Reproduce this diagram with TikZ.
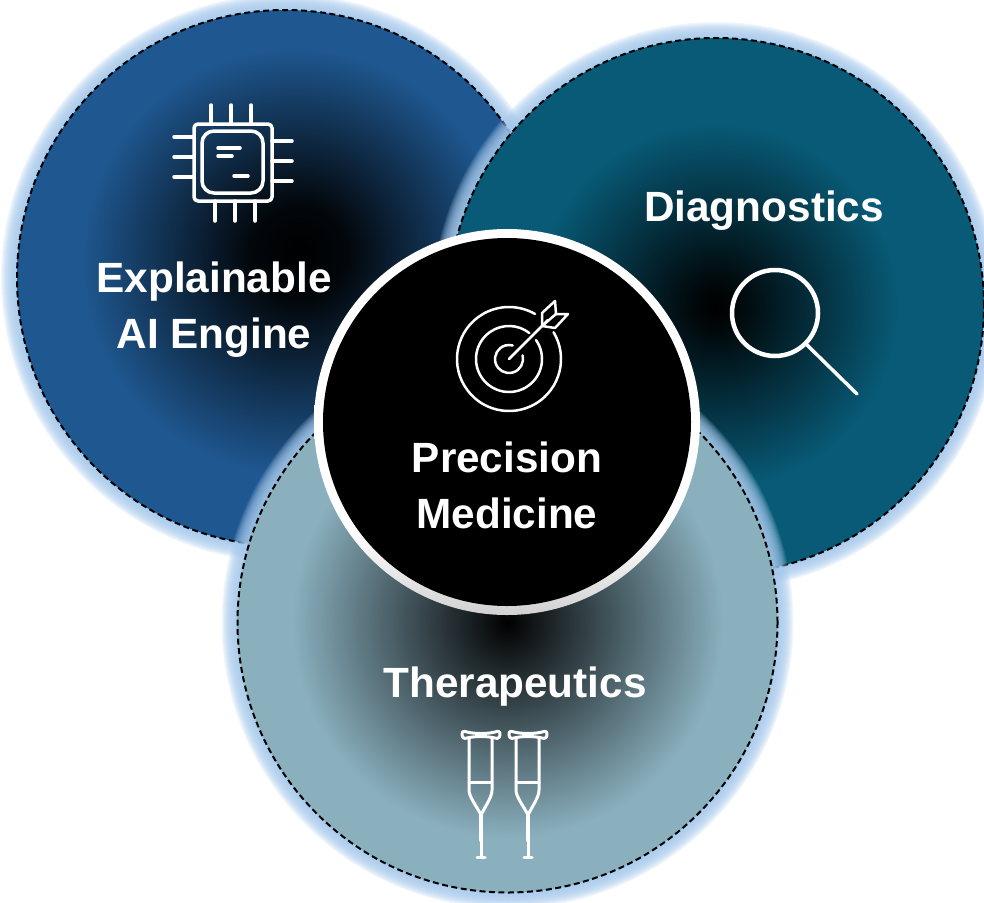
\documentclass[tikz,border=0pt]{standalone}
\usepackage{fontspec}
\setmainfont{Liberation Sans}
\usetikzlibrary{positioning}
\definecolor{glowblue}{RGB}{165,200,235}
\definecolor{aiblue}{RGB}{31,88,145}
\definecolor{diagteal}{RGB}{8,90,118}
\definecolor{therapale}{RGB}{138,176,190}
\pgfdeclareradialshading{aishade}{\pgfpoint{1.4bp}{2.6bp}}{color(0bp)=(black);color(4.5bp)=(black!92!aiblue);color(20bp)=(aiblue);color(50bp)=(aiblue)}
\pgfdeclareradialshading{diagshade}{\pgfpoint{0bp}{0bp}}{color(0bp)=(black);color(2bp)=(black!92!diagteal);color(17bp)=(diagteal);color(50bp)=(diagteal)}
\pgfdeclareradialshading{therashade}{\pgfpoint{0bp}{0bp}}{color(0bp)=(black);color(1.5bp)=(black!92!therapale);color(20bp)=(therapale);color(50bp)=(therapale)}
\pgfdeclareverticalshading{rimshade}{100bp}{color(0bp)=(black!18);color(25bp)=(black!18);color(36bp)=(white);color(100bp)=(white)}
\newcommand{\glowrings}[2]{\foreach \ringstep in {1,...,16}{\fill[glow] (#1) circle[radius=#2+\ringstep];}}
\begin{document}
\begin{tikzpicture}[
            x=1pt,y=-1pt,
            disc/.style={circle,inner sep=0pt,outer sep=0pt,minimum size=536pt,draw=black,line width=2pt,dash pattern=on 6pt off 3.5pt},
            glow/.style={fill=glowblue,fill opacity=0.14},
            caption node/.style={align=center,inner sep=0pt,text=white,font=\fontsize{42.3}{55.5}\selectfont\bfseries},
            icon line/.style={draw=white,line width=3.5pt,line cap=round,line join=round},
            thin icon/.style={draw=white,line width=2.5pt,line cap=round,line join=round}
        ]
        \useasboundingbox (0,0) rectangle (984,902);
        \coordinate (ai centre) at (285,278);
        \coordinate (diag centre) at (716,306);
        \coordinate (thera centre) at (507.5,622.5);
        \coordinate (core centre) at (507,422);
        \coordinate (chip) at (233,163);
        \coordinate (target) at (509,359);
        \coordinate (glass) at (775,313);
        \coordinate (crutch) at (481,731);

        \glowrings{ai centre}{268}
        \node [disc,shading=aishade] (ai disc) at (ai centre) {};
        \glowrings{diag centre}{268}
        \node [disc,shading=diagshade] (diag disc) at (diag centre) {};
        \glowrings{thera centre}{270}
        \node [disc,shading=therashade,minimum size=540pt] (thera disc) at (thera centre) {};
        \node [circle,inner sep=0pt,outer sep=0pt,minimum size=386pt,shading=rimshade] (core rim) at (core centre) {};
        \node [circle,inner sep=0pt,outer sep=0pt,minimum size=368pt,fill=black] (core disc) at (core centre) {};

        \node [caption node,below=99pt of chip,xshift=-19pt] (ai label) {Explainable\\AI Engine};
        \node [caption node,above=82pt of glass,xshift=-11pt] (diag label) {Diagnostics};
        \node [caption node,below=83pt of target,xshift=-2pt] (core label) {Precision\\Medicine};
        \node [caption node,above=25pt of crutch,xshift=34pt] (thera label) {Therapeutics};

        % chip
        \draw[icon line,rounded corners=4pt] (194,124) rectangle (272,201);
        \draw[icon line,rounded corners=12pt] (202,131) rectangle (263,193);
        \foreach \x in {211,231,251} \draw[icon line] (\x,105) -- (\x,124);
        \foreach \x in {215,235,255} \draw[icon line] (\x,201) -- (\x,221);
        \foreach \y in {137,157,177} \draw[icon line] (174,\y) -- (194,\y);
        \foreach \y in {141,161,181} \draw[icon line] (272,\y) -- (292,\y);
        \draw[icon line] (218,148) -- (240,148);
        \draw[icon line] (218,156) -- (232,156);
        \draw[icon line] (234,176) -- (248,176);

        % target
        \draw[thin icon] ([shift={(-31:52)}]target) arc[start angle=-31,end angle=300,radius=52];
        \draw[thin icon] ([shift={(-35:33)}]target) arc[start angle=-35,end angle=308,radius=33];
        \draw[thin icon] ([shift={(-15:14)}]target) arc[start angle=-15,end angle=285,radius=14];
        \draw[thin icon] (target) -- (548,320);
        \draw[thin icon] (542,313) -- (555,301) -- (556,314) -- (568,314) -- (555,328) -- (542,326) -- cycle;
        \draw[thin icon] (542,326) -- (556,314);

        % magnifier
        \draw[icon line,line width=4.5pt] (glass) circle[radius=43];
        \draw[icon line] (806,344) -- (857,394);

        % crutches
        \foreach \x in {0,47}{
            \begin{scope}[xshift=\x pt]
                \draw[thin icon,line width=3pt] (462,734) .. controls (462,731) and (464,731) .. (467,732) .. controls (475,734) and (487,734) .. (495,732) .. controls (498,731) and (500,731) .. (500,734) .. controls (500,738) and (498,739) .. (495,738) .. controls (487,736) and (475,736) .. (467,738) .. controls (464,739) and (462,738) .. (462,734) -- cycle;
                \draw[thin icon,line width=3pt] (469,738) -- (469,790) .. controls (469,797) and (476,805) .. (481,815) .. controls (486,805) and (492,797) .. (492,790) -- (492,738);
                \draw[thin icon,line width=3pt] (469,782) -- (492,782);
                \draw[thin icon,line width=4.5pt] (481,815) -- (481,840);
                \draw[thin icon,line width=3pt] (481,840) -- (481,857);
                \draw[thin icon,line width=3pt] (477,857) -- (485,857);
            \end{scope}
        }
    \end{tikzpicture}
\end{document}
